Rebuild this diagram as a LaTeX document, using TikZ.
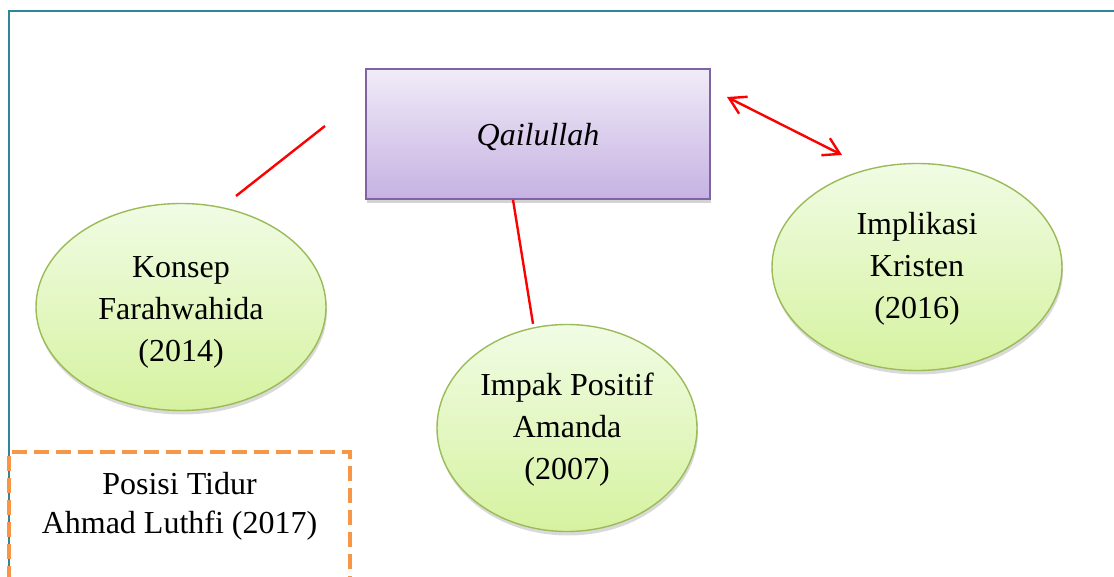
\documentclass[tikz,border=0pt]{standalone}
\usepackage{fontspec}
\setmainfont{Liberation Serif}
\usetikzlibrary{shapes,arrows.meta,positioning,shadows}

\definecolor{framecol}{RGB}{49,133,155}
\definecolor{greentop}{RGB}{240,252,228}
\definecolor{greenbot}{RGB}{214,242,160}
\definecolor{greenline}{RGB}{155,187,89}
\definecolor{purptop}{RGB}{240,235,248}
\definecolor{purpbot}{RGB}{198,178,226}
\definecolor{purpline}{RGB}{128,100,162}
\definecolor{orangeline}{RGB}{247,150,70}

\begin{document}
\begin{tikzpicture}[x=1pt, y=-1pt,
    bubble/.style={ellipse, draw=greenline, line width=1.4pt, top color=greentop, bottom color=greenbot,
        minimum width=290pt, minimum height=207pt, inner sep=0pt, align=center,
        font=\fontsize{32}{42}\selectfont, text height=110pt,
        drop shadow={opacity=0.3, shadow xshift=1pt, shadow yshift=-4pt}},
    link/.style={red, line width=2.4pt}]
    \clip (0,0) rectangle (1114,577);

    % Frame
    \draw[framecol, line width=2pt] (9,577) -- (9,11.5) -- (1114,11.5);

    % Centre box
    \node[draw=purpline, line width=1.6pt, top color=purptop, bottom color=purpbot,
        minimum width=344pt, minimum height=130pt, inner sep=0pt,
        font=\fontsize{32}{42}\selectfont\itshape, text height=29pt,
        drop shadow={opacity=0.35, shadow xshift=1pt, shadow yshift=-4pt}] (qail) at (538,134) {Qailullah};

    % Ellipses
    \node[bubble, text height=115pt] (konsep) at (181,307) {Konsep\\Farahwahida\\(2014)};
    \node[bubble, minimum width=260pt] (impak) at (567,428) {Impak Positif\\Amanda\\(2007)};
    \node[bubble] (implikasi) at (917,267) {Implikasi\\Kristen\\(2016)};

    % Dashed box
    \node[draw=orangeline, line width=4pt, dash pattern=on 15pt off 7pt,
        minimum width=341pt, minimum height=150pt] (posisi) at (179.5,527) {};
    \node[font=\fontsize{32}{39}\selectfont, align=center, inner sep=0pt,
        below=22pt of posisi.north] (posisitxt) {Posisi Tidur\\Ahmad Luthfi (2017)};

    % Links
    \coordinate (tlA) at (236,196);
    \coordinate (tlB) at (325,126);
    \draw[link] (tlA) -- (tlB);

    \draw[link] ([xshift=-25pt]qail.south) -- ([xshift=-34pt]impak.north);

    \coordinate (arrA) at (727,97);
    \coordinate (arrB) at (842,155);
    \draw[link, {Straight Barb[length=16pt,width=19pt]}-{Straight Barb[length=16pt,width=19pt]}] (arrA) -- (arrB);
\end{tikzpicture}
\end{document}
